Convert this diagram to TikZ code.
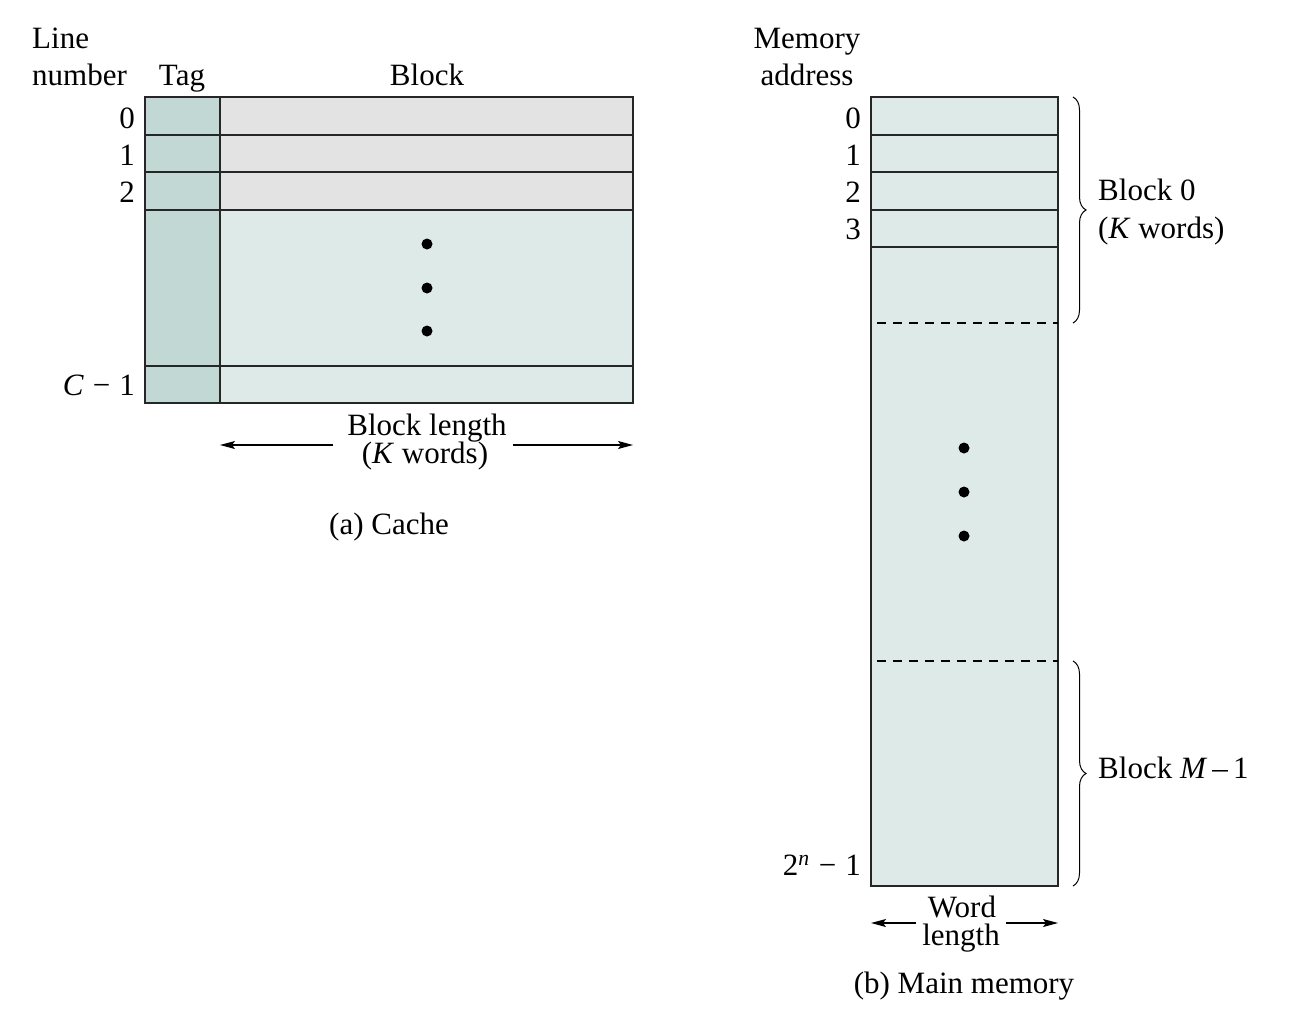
\documentclass[tikz,border=0pt]{standalone}
\usepackage{fontspec}
\setmainfont{Liberation Serif}
\usetikzlibrary{decorations.pathreplacing,arrows.meta}
\definecolor{tagc}{HTML}{C2D8D4}
\definecolor{lite}{HTML}{DEEAE8}
\definecolor{grayc}{HTML}{E3E3E3}
\tikzset{
  box/.style={draw=black!85,line width=1.3pt},
  lbl/.style={inner sep=0pt,font=\fontsize{31}{37}\selectfont},
  numlbl/.style={lbl,anchor=base east},
  arr/.style={line width=1.1pt,-{Stealth[length=15pt,width=8pt,inset=3pt]}},
  dashline/.style={line width=1.1pt,dash pattern=on 9pt off 7pt},
  bracestyle/.style={line width=1pt,decorate,decoration={brace,amplitude=13pt}},
  dotc/.style={fill=black}
}
\newcommand{\mgap}{\hspace{9pt}}
\begin{document}
\begin{tikzpicture}[x=1pt,y=-1pt]
\useasboundingbox (0,0) rectangle (1300,1012);
% ---------- Cache ----------
\fill[grayc] (220,97) rectangle (633,210);
\fill[lite] (220,210) rectangle (633,403);
\fill[tagc] (145,97) rectangle (220,403);
\draw[box] (145,97) rectangle (633,403);
\draw[box] (220,97) -- (220,403);
\foreach \yy in {135,172,210,366} {\draw[box] (145,\yy) -- (633,\yy);}
\foreach \yy in {244,288,331} {\fill[dotc] (427,\yy) circle (5.5);}
\node[lbl,anchor=base west] (line) at (32,48) {Line};
\node[lbl,anchor=base west] (number) at (32,85) {number};
\node[lbl,anchor=base] (tag) at (182,85) {Tag};
\node[lbl,anchor=base] (block) at (427,85) {Block};
\node[numlbl] (c0) at (135,128) {0};
\node[numlbl] (c1) at (135,165) {1};
\node[numlbl] (c2) at (135,202) {2};
\node[numlbl] (cc) at (135,395) {\textit{C}\mgap−\mgap1};
\node[lbl,anchor=base] (bl1) at (427,435) {Block length};
\node[lbl,anchor=base] (bl2) at (425,463) {(\textit{K} words)};
\coordinate (ca1) at (220,445);
\coordinate (ca2) at (633,445);
\draw[arr] ([xshift=-14pt]bl1.west |- ca1) -- (ca1);
\draw[arr] ([xshift=6pt]bl1.east |- ca2) -- (ca2);
\node[lbl,anchor=base] (capa) at (389,534) {(a) Cache};
% ---------- Main memory ----------
\fill[lite] (871,97) rectangle (1058,886);
\draw[box] (871,97) rectangle (1058,886);
\foreach \yy in {135,172,210,247} {\draw[box] (871,\yy) -- (1058,\yy);}
\draw[dashline] (877,323) -- (1058,323);
\draw[dashline] (877,661) -- (1058,661);
\foreach \yy in {448,492,536} {\fill[dotc] (964,\yy) circle (5.5);}
\node[lbl,anchor=base] (mem) at (807,48) {Memory};
\node[lbl,anchor=base] (addr) at (807,85) {address};
\node[numlbl] (m0) at (861,128) {0};
\node[numlbl] (m1) at (861,165) {1};
\node[numlbl] (m2) at (861,202) {2};
\node[numlbl] (m3) at (861,239) {3};
\node[numlbl] (mn) at (861,875) {2\textsuperscript{\textit{n}}\mgap−\mgap1};
\coordinate (b0t) at (1073,97);
\coordinate (b0b) at (1073,323);
\coordinate (b1t) at (1073,661);
\coordinate (b1b) at (1073,886);
\draw[bracestyle] (b0t) -- (b0b);
\draw[bracestyle] (b1t) -- (b1b);
\node[lbl,anchor=base west] (blk0a) at (1098,200) {Block 0};
\node[lbl,anchor=base west] (blk0b) at (1098,238) {(\textit{K} words)};
\node[lbl,anchor=base west] (blkm) at (1098,778) {Block \textit{M}\,–\,1};
\node[lbl,anchor=base] (wl1) at (962,917) {Word};
\node[lbl,anchor=base] (wl2) at (961,945) {length};
\coordinate (wa1) at (871,923);
\coordinate (wa2) at (1058,923);
\draw[arr] ([xshift=-6pt]wl2.west |- wa1) -- (wa1);
\draw[arr] ([xshift=6pt]wl2.east |- wa2) -- (wa2);
\node[lbl,anchor=base] (capb) at (964,993) {(b) Main memory};
\end{tikzpicture}
\end{document}
